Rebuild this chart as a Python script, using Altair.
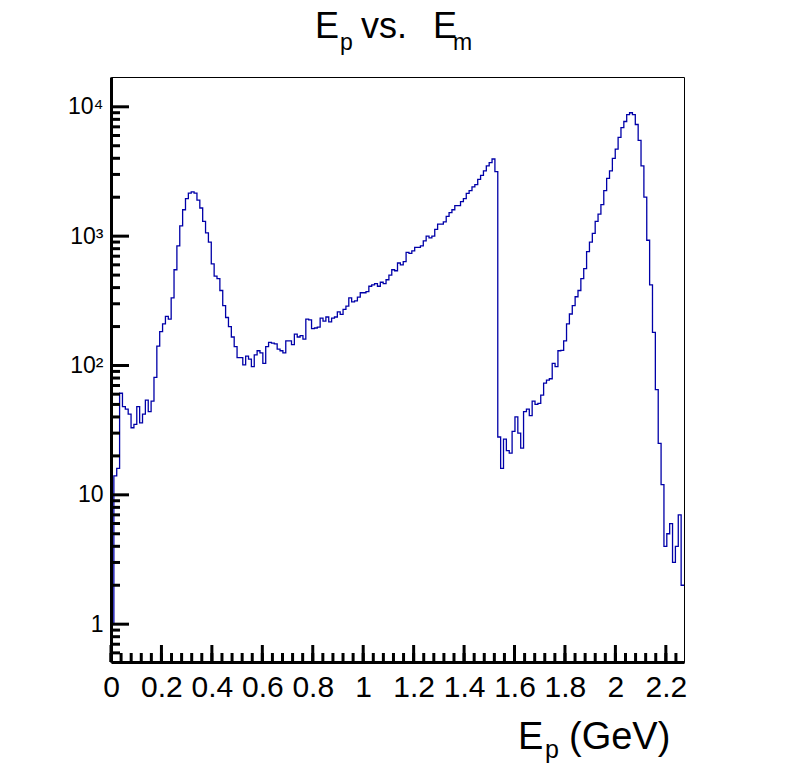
import altair as alt
import numpy as np
import pandas as pd

# bin contents, 200 equal bins from 0 to X_MAX
counts = [
    1, 14, 16, 61, 48, 46, 42, 33, 35, 48, 36, 42, 54, 44, 53, 81, 141, 183, 210, 240,
    228, 333, 550, 840, 1200, 1600, 1950, 2150, 2200, 2150, 1900, 1650, 1300, 1060, 900, 610, 490, 470, 380, 290,
    235, 200, 166, 140, 115, 115, 101, 118, 112, 98, 121, 130, 125, 104, 140, 151, 149, 147, 134, 130,
    125, 155, 155, 145, 175, 166, 170, 160, 228, 225, 193, 195, 198, 232, 220, 237, 217, 232, 237, 260,
    248, 272, 288, 333, 310, 316, 338, 365, 365, 372, 410, 420, 430, 410, 440, 430, 460, 500, 550, 540,
    620, 600, 635, 750, 735, 770, 820, 820, 840, 920, 1000, 970, 1000, 1130, 1240, 1240, 1290, 1420, 1520, 1600,
    1720, 1720, 1850, 1950, 2140, 2250, 2400, 2500, 2750, 2950, 3200, 3500, 3700, 3950, 3150,
    28, 16, 27, 22, 21, 31, 40, 30, 23, 44, 46, 41, 53, 50, 51, 59, 73, 77, 79, 104,
    98, 130, 131, 155, 210, 250, 290, 340, 380, 470, 560, 760, 900, 1050, 1300, 1480, 1750, 2250, 2800, 3200,
    4000, 4700, 5800, 6900, 7700, 8700, 9000, 8700, 7300, 5500, 3500, 2000, 930, 420, 180, 65, 25, 12, 4, 5,
    6, 3, 4, 7, 2,
]
X_MAX = 2.272
Y_MIN, Y_MAX = 0.51, 17000

x_major = [0, 0.2, 0.4, 0.6, 0.8, 1.0, 1.2, 1.4, 1.6, 1.8, 2.0, 2.2]
x_minor = [round(0.04 * i, 2) for i in range(57)]
y_major = [1, 10, 100, 1000, 10000]
y_labels = ["1", "10", "10²", "10³", "10⁴"]
y_minor = [m * 10**k for k in range(-1, 5) for m in range(2, 10) if Y_MIN < m * 10**k < Y_MAX]

W, H = 573, 585
FONT = "Liberation Sans"

edges = np.linspace(0, X_MAX, len(counts) + 1)
hist = pd.DataFrame({"x": edges, "y": counts + [counts[-1]]})

xs = alt.Scale(domain=[0, X_MAX], nice=False, zero=False)
ys = alt.Scale(type="log", domain=[Y_MIN, Y_MAX], nice=False)

label_expr = "{" + ",".join(f"'{v}':'{l}'" for v, l in zip(y_major, y_labels)) + "}[''+datum.value]"

line = alt.Chart(hist).mark_line(interpolate="step-after", color="#0000a8", strokeWidth=1.3, clip=True).encode(
    x=alt.X("x:Q", scale=xs, axis=alt.Axis(values=x_major, format="~g", ticks=False, grid=False,
                                          title=None, labelFontSize=30, labelFont=FONT, labelPadding=10,
                                          domainColor="black", domainWidth=3, labelColor="black",
                                          labelFlush=False, labelOverlap=False, labelBound=False)),
    y=alt.Y("y:Q", scale=ys, axis=alt.Axis(values=y_major, labelExpr=label_expr, ticks=False, grid=False,
                                          title=None, labelFontSize=23, labelFont=FONT, labelPadding=8,
                                          domainColor="black", domainWidth=3, labelColor="black")),
)

def xticks(vals, length):
    return alt.Chart(pd.DataFrame({"x": vals})).mark_rule(color="black", strokeWidth=3).encode(
        x=alt.X("x:Q", scale=xs), y=alt.value(H), y2=alt.value(H - length))

def yticks(vals, length):
    return alt.Chart(pd.DataFrame({"y": vals})).mark_rule(color="black", strokeWidth=3).encode(
        y=alt.Y("y:Q", scale=ys), x=alt.value(0), x2=alt.value(length))

def txt(t, x, y, size):
    return alt.Chart(pd.DataFrame({"t": [t]})).mark_text(
        align="left", baseline="alphabetic", fontSize=size, font=FONT, color="black"
    ).encode(text="t:N", x=alt.value(x), y=alt.value(y))

labels = (
    txt("E", 204, -39, 36) + txt("p", 229, -27, 23) + txt("vs.", 250, -39, 36)
    + txt("E", 322, -39, 36) + txt("m", 342, -27, 23)
    + txt("E", 407, 672, 38) + txt("p", 434, 681, 25) + txt("(GeV)", 458, 672, 38)
)

chart = (
    alt.layer(line, xticks(x_minor, 9), xticks(x_major, 17), yticks(y_minor, 9), yticks(y_major, 18), labels)
    .properties(width=W, height=H, autosize="none",
                padding={"left": 103, "top": 69, "right": 100, "bottom": 110})
    .configure_view(stroke="black", strokeWidth=1)
)

chart.save("out.html", embed_options={"renderer": "svg", "actions": False})
